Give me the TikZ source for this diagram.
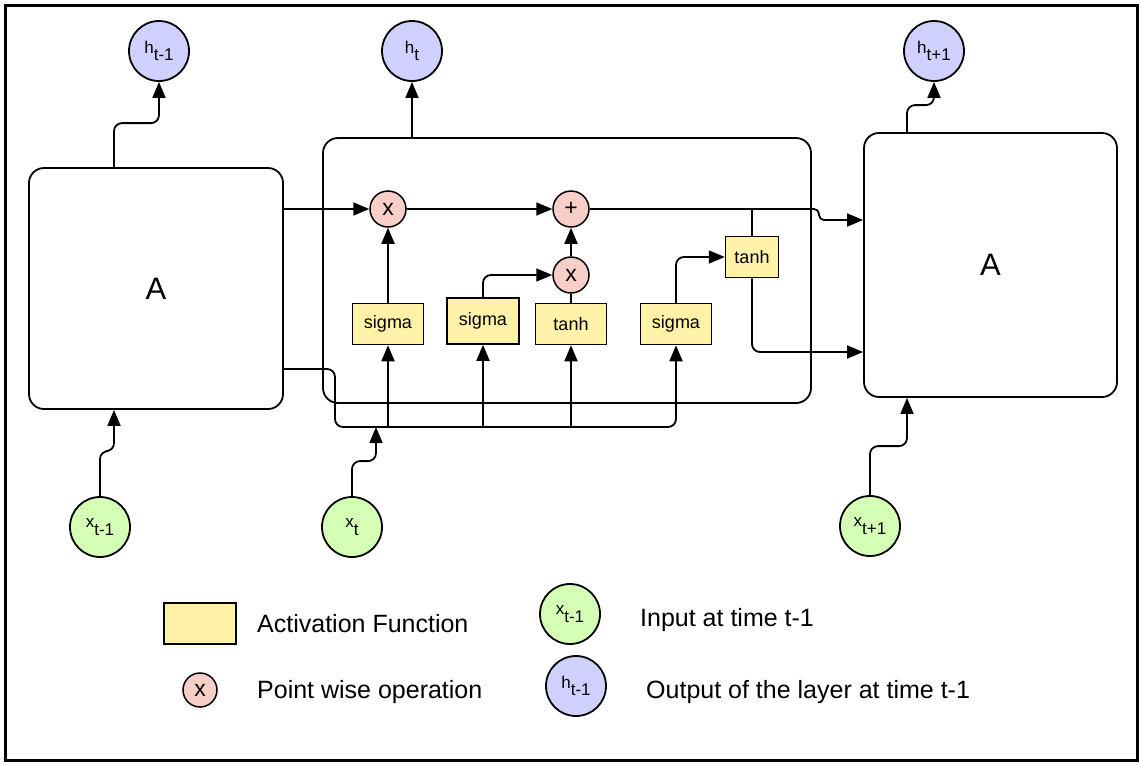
\documentclass[tikz,border=0pt]{standalone}
\usepackage{fontspec}
\setmainfont{Liberation Sans}
\usetikzlibrary{arrows.meta,calc}
\definecolor{hblue}{RGB}{208,208,255}
\definecolor{xgreen}{RGB}{214,255,182}
\definecolor{oppink}{RGB}{248,206,200}
\definecolor{actyellow}{RGB}{255,241,168}
\newcommand\sublbl[2]{#1\raisebox{-0.45em}{#2}}
\begin{document}
\begin{tikzpicture}[x=1pt,y=-1pt,
  box/.style={draw, line width=1.8pt, rounded corners=15pt, fill=white, inner sep=0pt},
  act/.style={draw, line width=1.5pt, fill=actyellow, inner sep=0pt, minimum width=71pt, minimum height=41pt, font=\fontsize{18}{20}\selectfont},
  op/.style={circle, draw, line width=1.5pt, fill=oppink, minimum size=36pt, inner sep=0pt, font=\fontsize{23}{24}\selectfont},
  hc/.style={circle, draw, line width=1.8pt, fill=hblue, minimum size=60pt, inner sep=0pt, font=\fontsize{17}{18}\selectfont},
  xc/.style={circle, draw, line width=1.8pt, fill=xgreen, minimum size=60pt, inner sep=0pt, font=\fontsize{17}{18}\selectfont},
  wire/.style={line width=1.8pt, rounded corners=8pt},
  arr/.style={wire, -{Triangle[length=16pt,width=13pt]}},
  lbl/.style={inner sep=0pt, font=\fontsize{25}{30}\selectfont}
]
\useasboundingbox (0,0) rectangle (1141,764);
\draw[line width=3pt] (5,5) rectangle (1137,760);

% main blocks
\node[box, minimum width=254pt, minimum height=241pt, font=\fontsize{31}{34}\selectfont] (A1) at (156,288.5) {A};
\node[box, minimum width=488pt, minimum height=265pt] (M) at (567,270.5) {};
\node[box, minimum width=253pt, minimum height=264pt, font=\fontsize{31}{34}\selectfont] (A3) at (990.5,265) {A};

% outputs / inputs
\node[hc] (h1) at (159,51) {\sublbl{h}{t-1}};
\node[hc] (h2) at (412,51) {\sublbl{h}{t}};
\node[hc] (h3) at (934,51) {\sublbl{h}{t+1}};
\node[xc] (x1) at (100,527) {\sublbl{x}{t-1}};
\node[xc] (x2) at (352,527) {\sublbl{x}{t}};
\node[xc] (x3) at (870,526) {\sublbl{x}{t+1}};

% point-wise ops
\node[op] (m1) at (388,209) {x};
\node[op] (p1) at (571,209) {+};
\node[op] (m2) at (571,275) {x};

% activation functions
\node[act] (s1) at (388,324) {sigma};
\node[act, minimum width=72pt, minimum height=46pt] (s2) at (483,321) {sigma};
\node[act] (t1) at (571,324) {tanh};
\node[act] (s4) at (676,324) {sigma};
\node[act, minimum width=53pt] (t2) at (752,257) {tanh};

% connectors
\draw[arr] ([xshift=-42pt]A1.north) -- ++(0,-44) -| (h1.south);
\draw[arr] (M.north -| h2.south) -- (h2.south);
\draw[arr] ([xshift=-83.5pt]A3.north) -- ++(0,-27) -| (h3.south);
\draw[arr] (x1.north) -- ++(0,-45) -| ([xshift=-42pt]A1.south);
\coordinate (xin) at (376,427);
\draw[arr] (x2.north) -- ++(0,-35) -| (xin);
\draw[arr] (x3.north) -- ++(0,-49) -| ([xshift=-83.5pt]A3.south);

\draw[arr] (A1.east |- m1.west) -- (m1.west);
\draw[arr] (s1.north) -- (m1.south);
\draw[arr] (m1.east) -- (p1.west);
\draw[arr] (s2.north) |- (m2.west);
\draw[wire] (t1.north) -- (m2.south);
\draw[arr] (m2.north) -- (p1.south);
\coordinate (jog) at (819,220);
\draw[arr, rounded corners=5pt] (p1.east) -| (jog) -- (jog -| A3.west);
\draw[wire] (t2.north |- p1.east) -- (t2.north);
\draw[arr] (s4.north) |- (t2.west);
\draw[arr] (t2.south) |- ([yshift=-87pt]A3.west);

\coordinate (busL) at (335,427);
\draw[arr] ([yshift=-80.5pt]A1.east) -| (busL) -| (s4.south);
\draw[arr] (s1.south |- busL) -- (s1.south);
\draw[arr] (s2.south |- busL) -- (s2.south);
\draw[arr] (t1.south |- busL) -- (t1.south);

% legend
\node[act, minimum width=72pt, minimum height=41pt] (la) at (200,623.5) {};
\node[lbl, anchor=base west] (lat) at (257,632) {Activation Function};
\node[op, minimum size=34pt] (lo) at (200,690) {x};
\node[lbl, anchor=base west] (lot) at (257,698) {Point wise operation};
\node[xc] (li) at (570,614) {\sublbl{x}{t-1}};
\node[lbl, anchor=base west] (lit) at (640,626) {Input at time t-1};
\node[hc] (lh) at (576,686) {\sublbl{h}{t-1}};
\node[lbl, anchor=base west] (lht) at (646,698) {Output of the layer at time t-1};
\end{tikzpicture}
\end{document}
